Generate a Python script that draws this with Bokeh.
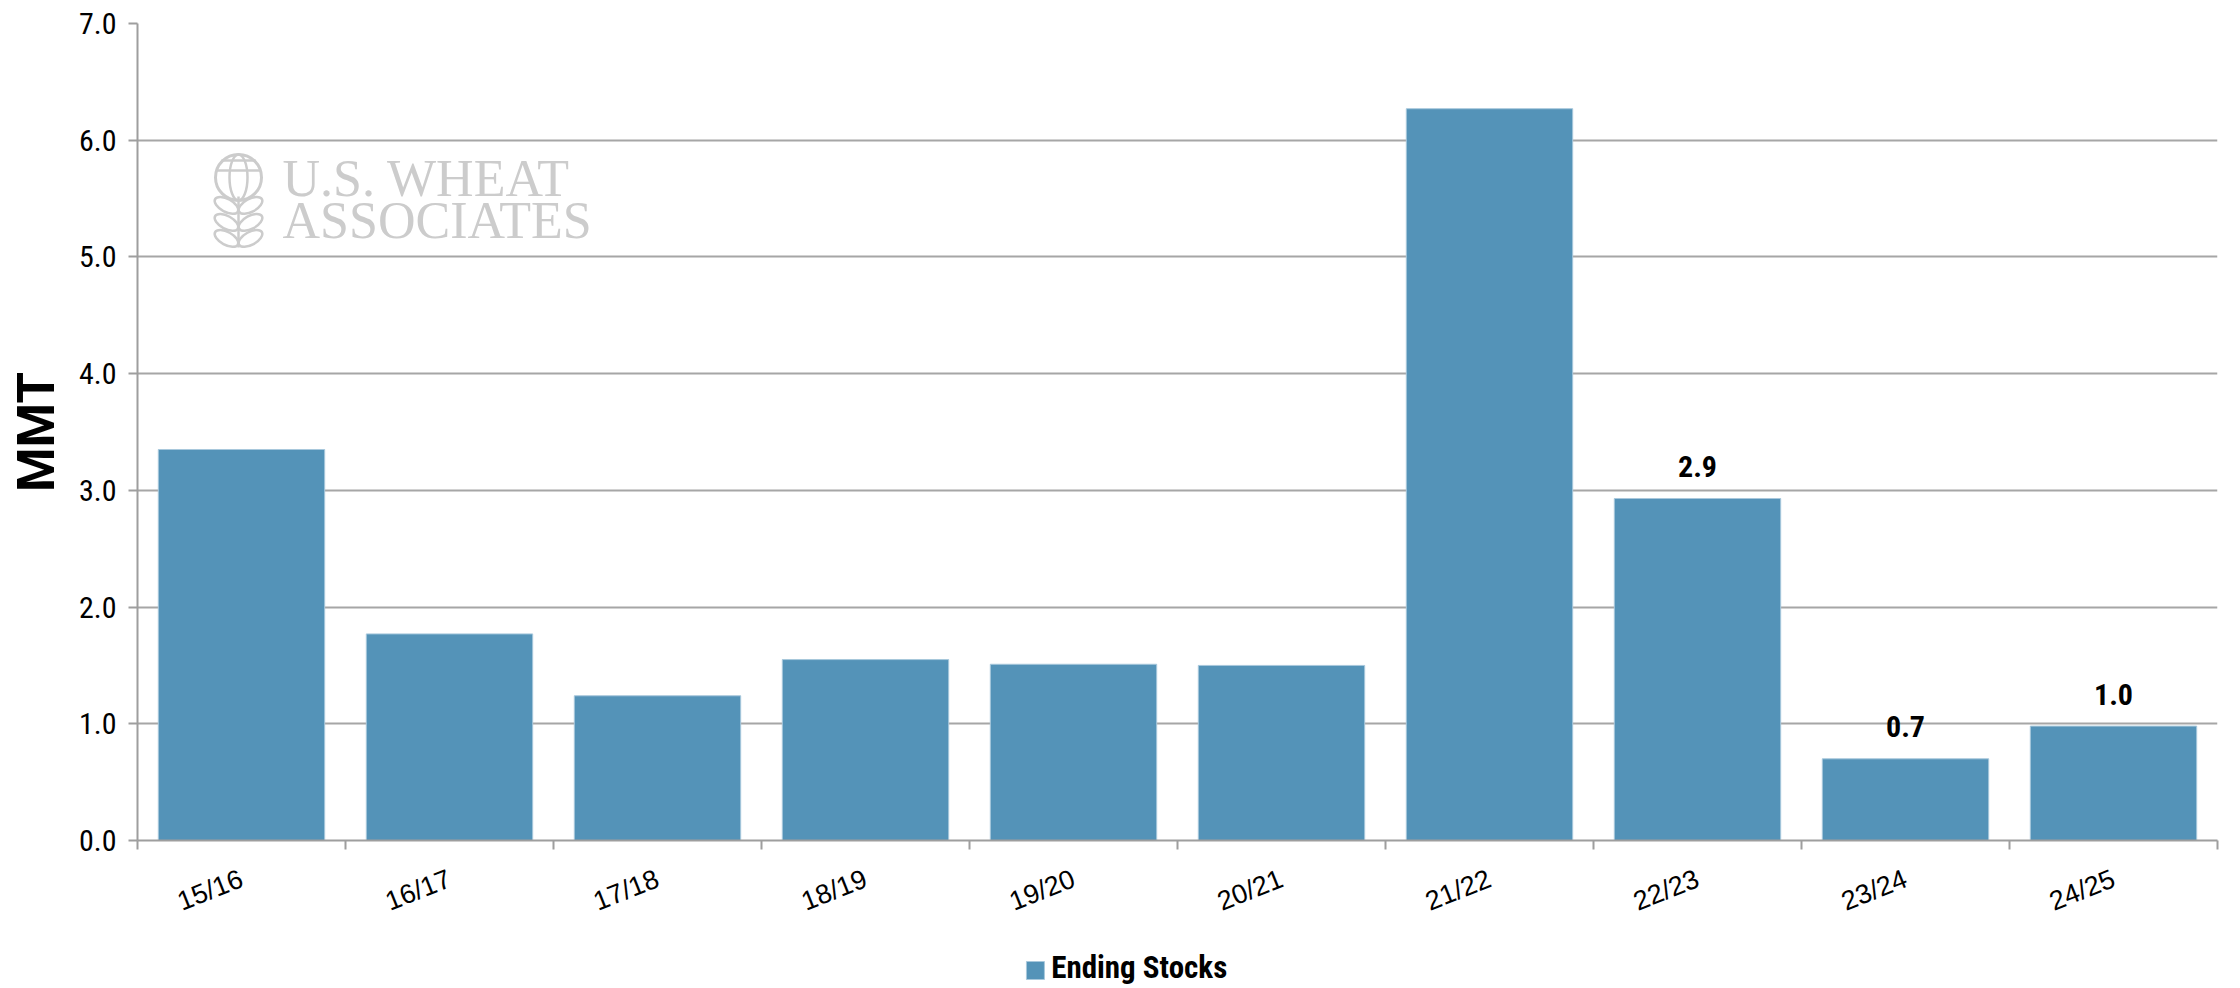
from bokeh.plotting import figure
from bokeh.models import (Range1d, FixedTicker, NumeralTickFormatter, Label,
                          ColumnDataSource)
from bokeh.layouts import column
from bokeh.core.properties import value
from bokeh.embed import file_html
from bokeh.resources import INLINE

# ---- data ----
seasons = ["15/16", "16/17", "17/18", "18/19", "19/20", "20/21", "21/22", "22/23", "23/24", "24/25"]
ending_stocks = [3.35, 1.77, 1.24, 1.55, 1.51, 1.50, 6.27, 2.93, 0.70, 0.98]
value_labels = ["", "", "", "", "", "", "", "2.9", "0.7", "1.0"]
y_ticks = [0, 1, 2, 3, 4, 5, 6, 7]
series_name = "Ending Stocks"

BAR = "#5493b8"
BAR_EDGE = "#a8c8dc"
GRID = "#a6a6a6"
AXIS = "#9e9e9e"
WM = "#cccccc"
COND = "'Liberation Sans Narrow', 'Roboto Condensed', Roboto"

n = len(seasons)
centers = [i + 0.5 for i in range(n)]
bounds = list(range(n + 1))

fig = figure(frame_width=2080, frame_height=817, x_range=Range1d(0, n), y_range=Range1d(0, 7),
             output_backend="svg", toolbar_location=None,
             min_border_left=137, min_border_right=23, min_border_top=23, min_border_bottom=100)
fig.outline_line_color = None
fig.background_fill_color = "white"

src = ColumnDataSource(dict(x=centers, top=ending_stocks, lab=value_labels))
bars = fig.vbar(x="x", top="top", width=0.8, bottom=0, source=src,
                fill_color=BAR, line_color=BAR_EDGE, line_width=1)

fig.text(x="x", y="top", text="lab", source=src, text_align="center",
         text_baseline="alphabetic", y_offset=-32, text_font=value(COND),
         text_font_size="30px", text_font_style="bold", text_color="black")

# ---- axes ----
fig.xgrid.visible = False
fig.ygrid.grid_line_color = GRID
fig.ygrid.grid_line_width = 2
fig.ygrid.ticker = FixedTicker(ticks=y_ticks)

ya = fig.yaxis[0]
ya.ticker = FixedTicker(ticks=y_ticks)
ya.formatter = NumeralTickFormatter(format="0.0")
ya.axis_line_color = AXIS
ya.axis_line_width = 2
ya.major_tick_line_color = AXIS
ya.major_tick_line_width = 2
ya.major_tick_out = 9
ya.major_tick_in = 0
ya.minor_tick_line_color = None
ya.major_label_text_font = COND
ya.major_label_text_font_size = "30px"
ya.major_label_text_color = "black"
ya.major_label_standoff = 12
ya.axis_label = "MMT"
ya.axis_label_text_font = "Roboto"
ya.axis_label_text_font_style = "bold"
ya.axis_label_text_font_size = "51px"
ya.axis_label_text_color = "black"
ya.axis_label_standoff = 10

xa = fig.xaxis[0]
xa.ticker = FixedTicker(ticks=centers, minor_ticks=bounds)
xa.major_label_overrides = {c: s for c, s in zip(centers, seasons)}
xa.axis_line_color = AXIS
xa.axis_line_width = 2
xa.major_tick_line_color = None
xa.minor_tick_line_color = AXIS
xa.minor_tick_line_width = 2
xa.minor_tick_out = 9
xa.minor_tick_in = 0
xa.major_label_orientation = 0.38
xa.major_label_text_font = "Liberation Sans"
xa.major_label_text_font_size = "27px"
xa.major_label_text_color = "black"
xa.major_label_standoff = 28

# ---- watermark (U.S. Wheat Associates) ----
def dx(px):
    return (px - 137) / 208.0

def dy(py):
    return (840 - py) / 116.7

fig.add_layout(Label(x=dx(282), y=dy(178), text="U.S. WHEAT", text_font="Liberation Serif",
                     text_font_size="52px", text_color=WM, text_baseline="alphabetic"))
fig.add_layout(Label(x=dx(282), y=dy(220), text="ASSOCIATES", text_font="Liberation Serif",
                     text_font_size="52px", text_color=WM, text_baseline="alphabetic"))
# globe
fig.scatter(x=[dx(238)], y=[dy(177)], marker="circle", size=46, fill_color=None,
            line_color=WM, line_width=3)
fig.ellipse(x=[dx(238)], y=[dy(177)], width=18, height=46, width_units="screen",
            height_units="screen", fill_color=None, line_color=WM, line_width=2.5)
fig.segment(x0=[dx(216), dx(221)], y0=[dy(170), dy(160)], x1=[dx(260), dx(255)],
            y1=[dy(170), dy(160)], line_color=WM, line_width=2.5)
# leaves
lx = [dx(226), dx(250), dx(226), dx(250), dx(226), dx(250)]
ly = [dy(205), dy(205), dy(222), dy(222), dy(238), dy(238)]
ang = [-0.5, 0.5, -0.5, 0.5, -0.5, 0.5]
fig.ellipse(x=lx, y=ly, width=26, height=13, angle=ang, width_units="screen",
            height_units="screen", fill_color="white", line_color=WM, line_width=2.5)
fig.segment(x0=[dx(238)], y0=[dy(196)], x1=[dx(238)], y1=[dy(247)], line_color=WM, line_width=2.5)

# ---- legend strip below the chart ----
leg = figure(width=2240, height=48, x_range=Range1d(0, 2240), y_range=Range1d(0, 48),
             output_backend="svg", toolbar_location=None,
             min_border=0, min_border_left=0, min_border_right=0,
             min_border_top=0, min_border_bottom=0)
leg.axis.visible = False
leg.grid.visible = False
leg.outline_line_color = None
leg.scatter(x=[967], y=[18], marker="square", size=18, fill_color=BAR,
            line_color=BAR_EDGE, line_width=1)
leg.text(x=[984], y=[21], text=[series_name], text_align="left", text_baseline="alphabetic",
         text_font=value(COND), text_font_style="bold",
         text_font_size="31px", text_color="black")

p = column(fig, leg, spacing=0)
open("out.html", "w").write(file_html(p, INLINE))
